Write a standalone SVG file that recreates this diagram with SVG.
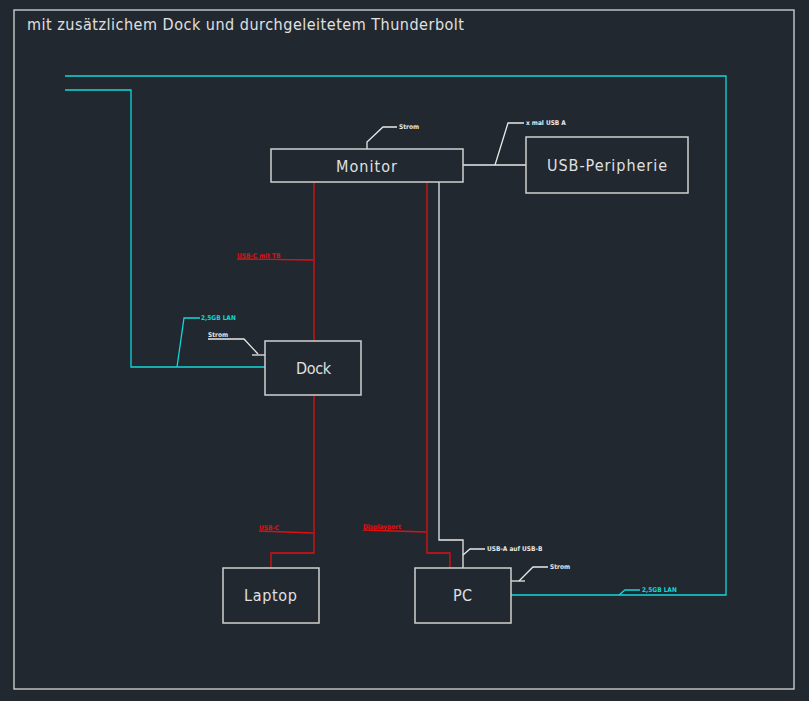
<svg xmlns="http://www.w3.org/2000/svg" width="809" height="701" viewBox="0 0 809 701">
<style>
.box{fill:none;stroke:#d0d0d0;stroke-width:1.5}
.w{fill:none;stroke:#e8e8e8;stroke-width:1.3}
.r{fill:none;stroke:#e01010;stroke-width:1.3}
.c{fill:none;stroke:#10d8d8;stroke-width:1.3}
.lbl{font-family:"DejaVu Sans Condensed","DejaVu Sans",sans-serif;font-size:16px;fill:#e0e0e0}
.sm{font-family:"DejaVu Sans Condensed","DejaVu Sans",sans-serif;font-size:6.5px;font-weight:bold}
</style>
<rect width="809" height="701" fill="#212830"/>
<rect x="14" y="10" width="780" height="679" fill="none" stroke="#d8d8d8" stroke-width="1.3"/>
<text x="27" y="30" font-family="DejaVu Sans Condensed,DejaVu Sans,sans-serif" font-size="16" fill="#e0e0e0" textLength="437" lengthAdjust="spacing">mit zusätzlichem Dock und durchgeleitetem Thunderbolt</text>
<g id="connectors">
<polyline class="w" points="463,165 526,165"/>
<polyline class="w" points="495,165 508,123 524,123"/>
<polyline class="w" points="367,149 367,142 383,127 397,127"/>
<polyline class="r" points="314,182 314,341"/>
<polyline class="r" points="237,259 313,260"/>
<polyline class="r" points="314,395 314,553 271,553 271,568"/>
<polyline class="r" points="259,531 313,533"/>
<polyline class="r" points="427,182 427,553 450,553 450,568"/>
<polyline class="r" points="363,530 426,532"/>
<polyline class="w" points="439,182 439,540 463,540 463,568"/>
<polyline class="w" points="463,555 470,549 485,549"/>
<polyline class="w" points="511,581 525,581"/>
<polyline class="w" points="519,581 533,567 548,567"/>
<polyline class="c" points="511,595 726,595 726,76 65,76"/>
<polyline class="c" points="619,595 625,590 640,590"/>
<polyline class="c" points="65,90 131,90 131,367 265,367"/>
<polyline class="c" points="177,367 184,318 200,318"/>
<polyline class="w" points="208,339 244,339 258,354"/>
<polyline class="w" points="252,355 265,355"/>
<text class="sm" x="399" y="129" fill="#e8e8e8">Strom</text>
<text class="sm" x="526" y="125" fill="#e8e8e8">x mal USB A</text>
<text class="sm" x="237" y="258" fill="#e01010">USB-C mit TB</text>
<text class="sm" x="201" y="320" fill="#10d8d8">2,5GB LAN</text>
<text class="sm" x="208" y="337" fill="#e8e8e8">Strom</text>
<text class="sm" x="259" y="530" fill="#e01010">USB-C</text>
<text class="sm" x="363" y="529" fill="#e01010">Displayport</text>
<text class="sm" x="487" y="551" fill="#e8e8e8">USB-A auf USB-B</text>
<text class="sm" x="550" y="569" fill="#e8e8e8">Strom</text>
<text class="sm" x="642" y="592" fill="#10d8d8">2,5GB LAN</text>
</g>
<g id="monitor"><rect class="box" x="271" y="149" width="192" height="33"/><text class="lbl" x="336" y="172" textLength="61" lengthAdjust="spacing">Monitor</text></g>
<g id="usb-peripherie"><rect class="box" x="526" y="137" width="162" height="56"/><text class="lbl" x="547" y="171" textLength="120" lengthAdjust="spacing">USB-Peripherie</text></g>
<g id="dock"><rect class="box" x="265" y="341" width="96" height="54"/><text class="lbl" x="296" y="374" textLength="35" lengthAdjust="spacing">Dock</text></g>
<g id="laptop"><rect class="box" x="223" y="568" width="96" height="55"/><text class="lbl" x="244" y="601" textLength="53" lengthAdjust="spacing">Laptop</text></g>
<g id="pc"><rect class="box" x="415" y="568" width="96" height="55"/><text class="lbl" x="453" y="601" textLength="19" lengthAdjust="spacing">PC</text></g>
</svg>
